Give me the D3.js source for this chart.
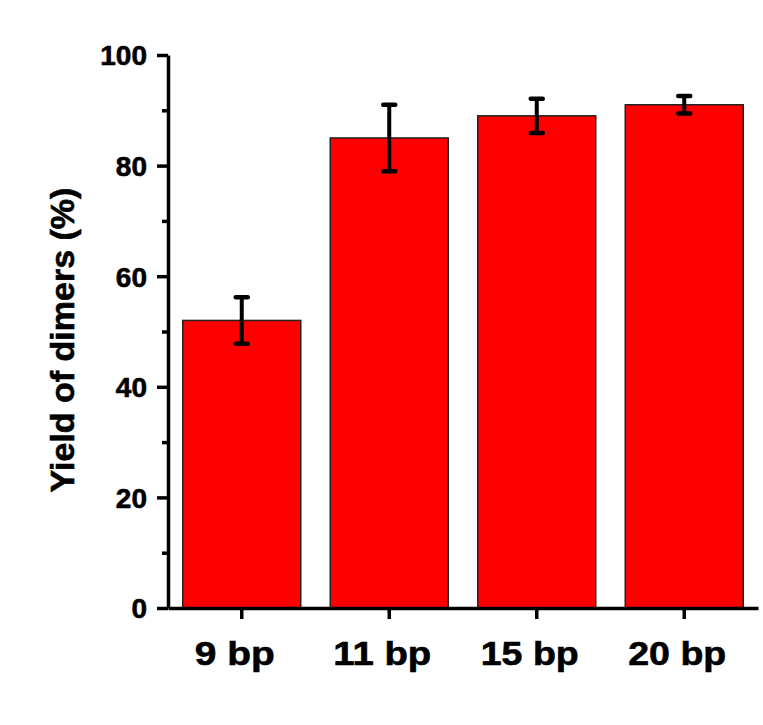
<!DOCTYPE html>
<html>
<head>
<meta charset="utf-8">
<script src="https://cdnjs.cloudflare.com/ajax/libs/d3/7.8.5/d3.min.js"></script>
<style>
  body { margin: 0; background: #fff; }
  text { font-family: "Liberation Sans", Arial, sans-serif; font-weight: bold; fill: #000; stroke: #000; stroke-width: 0.6px; }
</style>
</head>
<body>
<div id="chart"></div>
<script>
// data
var categories = ["9 bp", "11 bp", "15 bp", "20 bp"];
var yields = [52, 85, 89, 91];
var errors = [4.2, 6, 3.1, 1.6];
var yTicks = [0, 20, 40, 60, 80, 100];
var yMinorTicks = [10, 30, 50, 70, 90];

var svgWidth = 763;
var svgHeight = 725;

var margin = { top: 55, right: 5, bottom: 117, left: 168 };
var width = svgWidth - margin.left - margin.right;
var height = svgHeight - margin.top - margin.bottom;

var svg = d3.select("#chart")
    .append("svg")
    .attr("width", svgWidth)
    .attr("height", svgHeight);

var chartGroup = svg.append("g")
    .attr("transform", `translate(${margin.left}, ${margin.top})`);

var x = d3.scaleBand()
    .domain(categories)
    .range([0, width])
    .paddingInner(0.2)
    .paddingOuter(0.1);

var y = d3.scaleLinear()
    .domain([0, 100])
    .range([height, 0]);

// bars
chartGroup.selectAll("rect.bar")
    .data(categories)
    .enter()
    .append("rect")
    .attr("class", "bar")
    .attr("x", d => x(d))
    .attr("y", (d, i) => y(yields[i]))
    .attr("width", x.bandwidth())
    .attr("height", (d, i) => y(0) - y(yields[i]))
    .attr("fill", "#ff0000")
    .attr("stroke", "#222")
    .attr("stroke-width", 1.5);

// error bars
var err = chartGroup.selectAll("g.err")
    .data(categories)
    .enter()
    .append("g")
    .attr("class", "err")
    .attr("transform", d => `translate(${x(d) + x.bandwidth() / 2},0)`);

err.append("line")
    .attr("y1", (d, i) => y(yields[i] + errors[i]))
    .attr("y2", (d, i) => y(yields[i] - errors[i]))
    .attr("stroke", "#000")
    .attr("stroke-width", 4);

err.selectAll("line.cap")
    .data((d, i) => [yields[i] + errors[i], yields[i] - errors[i]])
    .enter()
    .append("line")
    .attr("class", "cap")
    .attr("x1", -6)
    .attr("x2", 6)
    .attr("y1", d => y(d))
    .attr("y2", d => y(d))
    .attr("stroke", "#000")
    .attr("stroke-width", 4.5)
    .attr("stroke-linecap", "round");

// y axis
var yAxis = chartGroup.append("g")
    .call(d3.axisLeft(y).tickValues(yTicks).tickSize(11).tickPadding(10).tickSizeOuter(0));

chartGroup.append("g")
    .call(d3.axisLeft(y).tickValues(yMinorTicks).tickSize(6).tickFormat("").tickSizeOuter(0))
    .select(".domain").remove();

// x axis
var xAxis = chartGroup.append("g")
    .attr("transform", `translate(0, ${height})`)
    .call(d3.axisBottom(x).tickSize(11).tickSizeOuter(0).tickPadding(23));

chartGroup.selectAll(".domain, .tick line")
    .attr("stroke", "#000")
    .attr("stroke-width", 3.5);

yAxis.selectAll("text")
    .style("font-size", "28px")
    .attr("dy", "0.35em");

xAxis.selectAll("text")
    .style("font-size", "33px")
    .attr("dx", -7)
    .attr("dy", "0.71em")
    .attr("textLength", d => d.length === 4 ? 80 : 98)
    .attr("lengthAdjust", "spacingAndGlyphs");

// y label
svg.append("text")
    .attr("transform", "translate(74, 340) rotate(-90)")
    .attr("text-anchor", "middle")
    .style("font-size", "34px")
    .text("Yield of dimers (%)");
</script>
</body>
</html>
